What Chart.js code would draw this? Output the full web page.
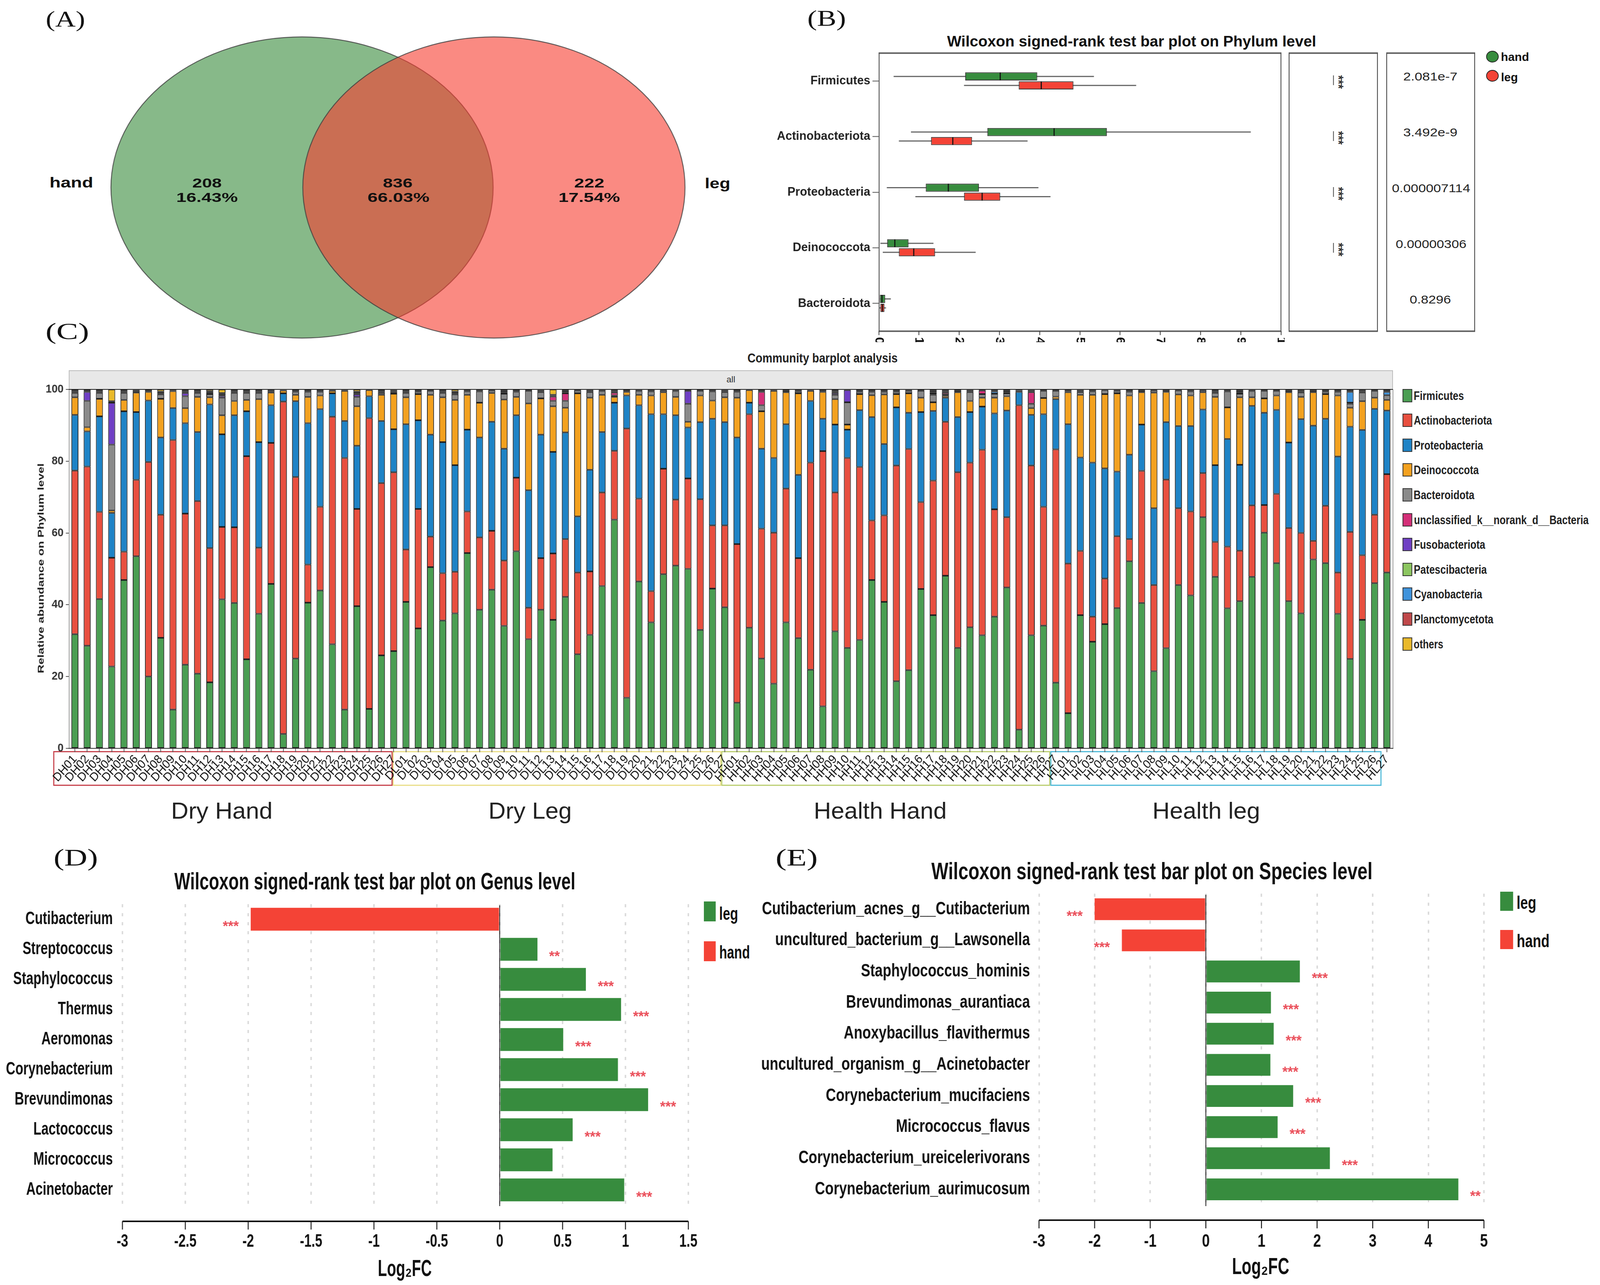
<!DOCTYPE html>
<html>
<head>
<meta charset="utf-8">
<script src="https://cdn.jsdelivr.net/npm/chart.js@4/dist/chart.umd.min.js"></script>
<style>
  html, body { margin: 0; padding: 0; background: #fff; overflow: hidden; }
  #page { position: relative; width: 4328px; height: 3290px; overflow: hidden; background: #fff; transform-origin: 0 0; }
  #page canvas { position: absolute; }
  .t { position: absolute; white-space: nowrap; line-height: 1; color: #111; font-family: "Liberation Sans", sans-serif; }
  .box { position: absolute; box-sizing: border-box; }
</style>
</head>
<body>
<div id="page"></div>
<script>
// ---------- panel A: Venn ----------
const vennSets = ["hand", "leg"];
const vennCenters = [-0.5, 0.5];
const vennRadius = 0.996;
const vennCounts = [208, 836, 222];
const vennPercents = ["16.43%", "66.03%", "17.54%"];

// ---------- panel B: phylum box plot ----------
const phylumNames = ["Firmicutes", "Actinobacteriota", "Proteobacteria", "Deinococcota", "Bacteroidota"];
const handMin = [0.37, 0.8, 0.2, 0.04, 0.03];
const handQ1 = [2.15, 2.7, 1.17, 0.21, 0.03];
const handMedian = [3.02, 4.36, 1.73, 0.4, 0.08];
const handQ3 = [3.94, 5.67, 2.49, 0.74, 0.16];
const handMax = [5.35, 9.25, 3.97, 1.36, 0.3];
const legMin = [2.12, 0.5, 0.91, 0.1, 0.01];
const legQ1 = [3.48, 1.3, 2.12, 0.5, 0.04];
const legMedian = [4.04, 1.84, 2.57, 0.87, 0.09];
const legQ3 = [4.84, 2.32, 3.02, 1.4, 0.14];
const legMax = [6.4, 3.7, 4.27, 2.41, 0.18];
const phylumPValues = ["2.081e-7", "3.492e-9", "0.000007114", "0.00000306", "0.8296"];
const phylumStars = ["***", "***", "***", "***", ""];
const phylumTicks = ["0", "1", "2", "3", "4", "5", "6", "7", "8", "9", "10"];

// ---------- panel C: community barplot ----------
const sampleLabels = [
  "DH01","DH02","DH03","DH04","DH05","DH06","DH07","DH08","DH09","DH10","DH11","DH12","DH13","DH14","DH15","DH16","DH17","DH18","DH19","DH20","DH21","DH22","DH23","DH24","DH25","DH26","DH27",
  "DL01","DL02","DL03","DL04","DL05","DL06","DL07","DL08","DL09","DL10","DL11","DL12","DL13","DL14","DL15","DL16","DL17","DL18","DL19","DL20","DL21","DL22","DL23","DL24","DL25","DL26","DL27",
  "HH01","HH02","HH03","HH04","HH05","HH06","HH07","HH08","HH09","HH10","HH11","HH12","HH13","HH14","HH15","HH16","HH17","HH18","HH19","HH20","HH21","HH22","HH23","HH24","HH25","HH26","HH27",
  "HL01","HL02","HL03","HL04","HL05","HL06","HL07","HL08","HL09","HL10","HL11","HL12","HL13","HL14","HL15","HL16","HL17","HL18","HL19","HL20","HL21","HL22","HL23","HL24","HL25","HL26","HL27"
];
// upper edge of each of the big segments
const firmicutesTop = [
  31.8,28.6,41.6,22.8,46.9,53.5,20,30.8,10.8,23.3,20.8,18.4,41.5,40.5,24.8,37.5,45.8,4,25,40.6,44,29,10.8,39.6,11,25.9,27.1,
  40.8,33.4,50.5,35.6,37.6,54.4,38.6,44.2,34.1,54.9,30.4,38.6,35.8,42.2,26.2,31.6,45.2,63.7,14.1,46.5,35.1,48.5,50.9,50,33,44.5,39.3,
  12.7,33.6,25,18,35.1,30.7,21.9,11.7,32.6,28,30.2,46.9,40.8,18.7,21.8,44.4,37.1,48.1,28,33.7,31.5,36.7,44.8,5.2,31.5,34.2,18.3,
  9.8,37.1,29.7,34.6,39.1,52.1,40.5,21.5,27.9,45.5,42.6,64.4,47.8,39,41,47.8,60.1,51.6,41,37.6,52.6,51.6,37.5,24.9,35.8,46,49
];
const actinoTop = [
  77.4,78.5,65.9,53.1,54.8,74.8,79.8,65.1,85.9,65.4,68.9,55.8,61.7,61.6,81.4,55.9,85.1,96.6,75.6,51.2,67.3,92.4,80.9,66.7,92,73.9,76.9,
  55.4,66.7,59,48.8,49.2,66,58.8,60.6,52.3,75.4,39.2,53,54.3,58.3,49,49.3,71.3,82.9,89.1,69.6,43.8,77.9,69.3,75.2,69.4,62.1,62.1,
  56.9,93.1,61.2,60.1,72.4,53,79.6,82.8,71.3,80.9,78.4,63.5,64.9,78.8,83.4,68.6,74.6,91,76.9,79.6,83.2,66.6,64.4,95.6,78.8,67.3,83.3,
  51.5,55,36.7,47.3,59.1,58.3,77.3,45.5,74.9,66.9,66,76.7,57.5,56.2,55.1,67.7,67.8,70.9,61.4,60,57.8,67.6,49,60.3,53.8,65.1,76.4
];
const proteoTop = [
  92.9,88.3,92.5,65.6,93.9,93.7,96.9,86.6,94.8,90.6,88.1,95.8,87.5,92.8,93.9,85.3,95.6,98.9,96.7,90.6,94.5,98.9,91.2,84.3,98.1,91.2,88.9,
  90.3,91.4,87.4,85.3,78.9,88.8,86.6,91,83.5,92.8,71.9,87.4,82.6,88,64.6,77.6,88.1,96.3,98.3,95.6,93.1,93.1,92.8,89.4,90.9,91.8,90.9,
  86.6,96.3,83.5,80.9,90.3,76.2,96.8,91.8,90.2,88.8,94.2,92.3,84.8,95,93.5,93.7,94,97.7,92.3,93.7,95.2,93.3,94.1,99.3,92.9,93.1,97.3,
  90.3,81,79.6,78,77.1,81.8,90.2,66.9,90.9,89.8,89.8,94.4,78.9,86.2,79,95.4,93.5,94.3,85.2,91.7,89.9,91.8,81.3,89.6,88.7,94.6,94.1
];
const deinoTop = [
  97.8,89.5,97.4,66.3,97.1,99.1,99.3,97.4,99.5,94.8,97.9,97.8,92.8,96.8,97.1,97.3,99.1,99.7,98.5,97.9,98.3,99.6,99.6,95.3,99.8,98.5,98.8,
  97.8,98.7,98.5,97.8,97.1,98.5,96.3,99,97.2,97.9,96.1,97.5,95.3,94.9,98.9,97.7,98.5,97.9,99.3,98.5,98.3,99.2,97.9,91,98.3,96.9,97.8,
  97.7,99.8,93.9,99.6,99.2,98.9,99.6,99.3,97.3,90.2,98.7,98.4,98.6,98.7,98.9,97.7,96.4,98.2,99.2,96.8,97.7,97.7,98.1,99.6,94.8,97.6,98,
  99.2,98.5,98.5,98.7,98.9,98.3,99.2,99.1,99.3,98.6,98.3,99.2,97.9,95,97.8,97.8,97.5,98.3,99.2,97.9,99.2,98.7,98.3,94.9,96.7,97.7,97.1
];
const bacteroTop = [
  99,96.8,99,84.6,99,99.5,99.6,98.6,99.7,98.1,99,98.7,97.7,99,99,99,99.4,99.8,99.3,99.3,99.3,99.8,99.8,97.9,99.9,99,99.2,
  99,99.3,99.6,99,98.6,99.4,99.4,99.7,98.8,99.3,99.6,99.2,96.8,96.8,99.7,99.2,99.5,98.3,99.6,99.5,99.4,99.7,99.5,96,99.6,99.4,99.2,
  99.3,99.9,95.6,99.8,99.6,99.4,99.8,99.6,98.5,96.4,99.3,99.3,99.3,99.3,99.5,99.6,98.5,98.6,99.6,99.2,98.7,98.8,98.9,99.7,96,99.6,99.6,
  99.4,99.2,99.4,99.8,99.5,99.3,99.6,99.7,99.7,99.7,99.4,99.7,99,99.4,98.8,99.5,99.6,99.6,99.6,99.1,99.6,99.3,99.3,96,99.1,99.6,98.4
];
// the thin segments above Bacteroidota, heights only
const unclassifiedVals = [
  0,0,0,0,0,0,0,0,0,0,0,0,0,0,0,0,0,0,0,0,0,0,0,0,0,0,0,
  0,0,0,0,0,0,0,0,0,0,0,0,1.2,2.1,0,0,0,0.8,0,0,0,0,0,0,0,0,0,
  0,0,3.7,0,0,0,0,0,0,0,0,0,0,0,0,0,0,0.5,0,0,1,0,0,0,3.2,0,0,
  0,0,0,0,0,0,0,0,0,0,0,0,0,0,0,0,0,0,0,0,0,0,0,0,0,0,0
];
const fusoVals = [
  0,2.5,0,11.7,0,0,0,0,0,0.9,0,0,0.5,0,0,0,0,0,0,0,0,0,0,0.7,0,0,0,
  0,0,0,0,0,0,0,0,0,0,0,0,0,0,0,0,0,0,0,0,0,0,0,3.6,0,0,0,
  0,0,0,0,0,0,0,0,0.5,3.4,0,0,0,0,0,0,0,0,0,0,0,0,0,0,0,0,0,
  0,0,0,0,0,0,0,0,0,0,0,0,0,0,0,0,0,0,0,0,0,0,0,0,0,0,0
];
const patesciVals = [
  0.3,0,0.3,0,0.3,0,0,0.4,0,0.3,0.3,0.4,0.4,0.3,0.3,0.3,0,0,0,0,0,0,0,0.4,0,0.3,0.3,
  0.3,0,0,0.3,0.4,0,0,0,0.4,0,0,0.3,0.3,0.3,0,0.3,0,0.3,0,0,0,0,0,0,0,0,0.3,
  0,0,0,0,0,0,0,0,0.3,0,0,0,0,0,0,0,0.4,0.3,0,0.3,0,0,0.3,0,0.3,0,0,
  0,0.3,0,0,0,0,0,0,0,0,0,0,0.3,0,0.4,0,0,0,0,0.3,0,0,0,0.3,0.3,0,0
];
const cyanoVals = [
  0,0,0,0,0,0,0,0,0,0,0,0,0,0,0,0,0,0,0,0,0,0,0,0,0,0,0,
  0,0,0,0,0,0,0,0,0,0,0,0,0,0,0,0,0,0,0,0,0,0,0,0,0,0,0,
  0,0,0,0,0,0,0,0,0,0,0,0,0,0,0,0,0.3,0,0,0,0,0.6,0,0,0,0,0,
  0,0,0,0,0,0,0,0,0,0,0,0,0,0,0,0,0,0,0,0,0,0,0,3,0,0,0.9
];
const planctoVals = [
  0.3,0.3,0.3,0.4,0.3,0.3,0,0.4,0,0.3,0.3,0.4,0.4,0.3,0.3,0.3,0.3,0,0.3,0.3,0.3,0,0,0.4,0,0.3,0.3,
  0.3,0.3,0,0.3,0.4,0.3,0.3,0,0.4,0.3,0,0.3,0.2,0.4,0,0.3,0.3,0.3,0,0.3,0.3,0,0.3,0,0,0.3,0.3,
  0.3,0,0.3,0,0,0.3,0,0,0.3,0,0.3,0.3,0.3,0.3,0.3,0,0.4,0.3,0,0.3,0,0.3,0.4,0,0.3,0,0,
  0.3,0.3,0.3,0,0.3,0.3,0,0,0,0,0.3,0,0.3,0.3,0.4,0.3,0,0,0,0.3,0,0.3,0.3,0.3,0.3,0,0.3
];
const othersVals = [
  0.4,0.4,0.4,3.3,0.4,0.2,0.4,0.6,0.3,0.4,0.4,0.5,1,0.4,0.4,0.4,0.3,0.2,0.4,0.4,0.4,0.2,0.2,0.6,0.1,0.4,0.2,
  0.4,0.4,0.4,0.4,0.6,0.3,0.3,0.3,0.4,0.4,0.4,0.2,1.5,0.4,0.3,0.2,0.2,0.3,0.4,0.2,0.3,0.3,0.2,0.4,0.4,0.3,0.2,
  0.4,0.1,0.4,0.2,0.4,0.3,0.2,0.4,0.4,0.2,0.4,0.4,0.4,0.4,0.2,0.4,0.4,0.3,0.4,0.2,0.3,0.3,0.4,0.3,0.2,0.4,0.4,
  0.3,0.2,0.3,0.2,0.2,0.4,0.4,0.3,0.3,0.3,0.3,0.3,0.4,0.3,0.4,0.2,0.4,0.4,0.4,0.3,0.4,0.4,0.4,0.4,0.3,0.4,0.4
];
const yTicksC = [0, 20, 40, 60, 80, 100];
const groupNames = ["Dry Hand", "Dry Leg", "Health Hand", "Health leg"];

// ---------- panel D: genus log2FC ----------
const genusNames = ["Cutibacterium","Streptococcus","Staphylococcus","Thermus","Aeromonas","Corynebacterium","Brevundimonas","Lactococcus","Micrococcus","Acinetobacter"];
const genusLogFC = [-1.98, 0.3, 0.685, 0.965, 0.505, 0.94, 1.18, 0.58, 0.42, 0.99];
const genusStars = ["***","**","***","***","***","***","***","***","","***"];

// ---------- panel E: species log2FC ----------
const speciesNames = ["Cutibacterium_acnes_g__Cutibacterium","uncultured_bacterium_g__Lawsonella","Staphylococcus_hominis","Brevundimonas_aurantiaca","Anoxybacillus_flavithermus","uncultured_organism_g__Acinetobacter","Corynebacterium_mucifaciens","Micrococcus_flavus","Corynebacterium_ureicelerivorans","Corynebacterium_aurimucosum"];
const speciesLogFC = [-2.0, -1.51, 1.69, 1.17, 1.22, 1.16, 1.57, 1.29, 2.23, 4.54];
const speciesStars = ["***","***","***","***","***","***","***","***","***","**"];

const GREEN = "#378c3e";
const RED = "#f44336";
const SANS = '"Liberation Sans", sans-serif';

const page = document.getElementById("page");
// the browser may cap the window below the figure width, so squeeze the whole page to fit
page.style.transform = `scaleX(${Math.min(1, window.innerWidth / 4328)})`;
Chart.defaults.font.family = SANS;
Chart.defaults.color = "#111";
Chart.defaults.animation = false;

// Text placed by left and right edge, squeezed or stretched to fit that width
function label(str, x0, x1, yc, size, opts = {}) {
  const el = document.createElement("div");
  el.className = "t";
  el.textContent = str;
  el.style.fontSize = size + "px";
  if (opts.bold) el.style.fontWeight = "bold";
  if (opts.family) el.style.fontFamily = opts.family;
  if (opts.color) el.style.color = opts.color;
  page.appendChild(el);
  const k = (x1 - x0) / el.offsetWidth;
  el.style.left = (x0 + x1) / 2 + "px";
  el.style.top = yc + "px";
  el.style.transform = `translate(-50%, -50%) ${opts.rotate ? "rotate(" + opts.rotate + "deg)" : ""} scaleX(${k})`;
  return el;
}

function box(x0, y0, x1, y1, css) {
  const el = document.createElement("div");
  el.className = "box";
  el.style.left = x0 + "px";
  el.style.top = y0 + "px";
  el.style.width = x1 - x0 + "px";
  el.style.height = y1 - y0 + "px";
  Object.assign(el.style, css);
  page.appendChild(el);
  return el;
}

// Canvas whose plot area lands on the given page rectangle
function makeCanvas(plot, margin) {
  const c = document.createElement("canvas");
  const w = plot.right - plot.left + margin.left + margin.right;
  const h = plot.bottom - plot.top + margin.top + margin.bottom;
  c.width = w;
  c.height = h;
  c.style.left = plot.left - margin.left + "px";
  c.style.top = plot.top - margin.top + "px";
  c.style.width = w + "px";
  c.style.height = h + "px";
  page.appendChild(c);
  return c;
}

function fixWidth(px) {
  return (s) => { s.width = px; s.paddingTop = 0; s.paddingBottom = 0; };
}
function fixHeight(px) {
  return (s) => { s.height = px; s.paddingLeft = 0; s.paddingRight = 0; };
}

// ---------- panel letters ----------
const SERIF = '"Liberation Serif", serif';
label("(A)", 123, 230, 49, 56, { family: SERIF });
label("(B)", 2183, 2288, 47, 56, { family: SERIF });
label("(C)", 123, 241, 848, 60, { family: SERIF });
label("(D)", 145, 265, 2195, 62, { family: SERIF });
label("(E)", 2098, 2212, 2195, 62, { family: SERIF });

// ---------- A ----------
const vennPlugin = {
  id: "venn",
  afterDatasetsDraw(chart) {
    const { ctx, scales: { x, y } } = chart;
    const fills = ["rgba(55,138,58,0.6)", "rgba(247,60,47,0.6)"];
    vennCenters.forEach((c, i) => {
      ctx.save();
      ctx.beginPath();
      ctx.ellipse(x.getPixelForValue(c), y.getPixelForValue(0),
        x.getPixelForValue(c + vennRadius) - x.getPixelForValue(c),
        y.getPixelForValue(0) - y.getPixelForValue(vennRadius), 0, 0, Math.PI * 2);
      ctx.fillStyle = fills[i];
      ctx.fill();
      ctx.lineWidth = 2.5;
      ctx.strokeStyle = "rgba(60,60,60,0.8)";
      ctx.stroke();
      ctx.restore();
    });
  },
};
new Chart(makeCanvas({ left: 298, right: 1855, top: 93, bottom: 867 }, { left: 0, right: 0, top: 0, bottom: 0 }), {
  type: "scatter",
  data: { datasets: [{ data: vennCenters.map((c) => ({ x: c, y: 0 })), pointRadius: 0 }] },
  options: {
    responsive: false,
    devicePixelRatio: 1,
    layout: { padding: 0 },
    plugins: { legend: { display: false }, tooltip: { enabled: false } },
    scales: {
      x: { display: false, min: -1.5, max: 1.5 },
      y: { display: false, min: -1, max: 1 },
    },
  },
  plugins: [vennPlugin],
});
label(vennSets[0], 134, 252, 468, 36, { bold: true });
label(vennSets[1], 1906, 1975, 470, 36, { bold: true });
[[520, 600, 477, 643], [1035, 1116, 994, 1161], [1553, 1635, 1511, 1677]].forEach((p, i) => {
  label(String(vennCounts[i]), p[0], p[1], 468, 34, { bold: true });
  label(vennPercents[i], p[2], p[3], 505, 34, { bold: true });
});

// ---------- B ----------
label("Wilcoxon signed-rank test bar plot on Phylum level", 2562, 3560, 106, 38, { bold: true });
const frameCss = { borderLeft: "2px solid #333", borderRight: "2px solid #333", borderTop: "4px solid #666", borderBottom: "4px solid #666" };
box(2377, 134, 3466, 850, frameCss);
box(3486, 134, 3727, 850, frameCss);
box(3750, 134, 3990, 850, frameCss);

const boxPlugin = {
  id: "boxExtras",
  beforeDatasetsDraw(chart) {
    const { ctx, scales: { x } } = chart;
    [[handMin, handMax], [legMin, legMax]].forEach(([lo, hi], d) => {
      chart.getDatasetMeta(d).data.forEach((bar, i) => {
        ctx.save();
        ctx.strokeStyle = "#666";
        ctx.lineWidth = 3;
        ctx.beginPath();
        ctx.moveTo(x.getPixelForValue(lo[i]), bar.y);
        ctx.lineTo(x.getPixelForValue(hi[i]), bar.y);
        ctx.stroke();
        ctx.restore();
      });
    });
  },
  afterDatasetsDraw(chart) {
    const { ctx, scales: { x }, chartArea } = chart;
    [handMedian, legMedian].forEach((med, d) => {
      chart.getDatasetMeta(d).data.forEach((bar, i) => {
        const px = x.getPixelForValue(med[i]);
        ctx.save();
        ctx.strokeStyle = "#111";
        ctx.lineWidth = 3;
        ctx.beginPath();
        ctx.moveTo(px, bar.y - 10);
        ctx.lineTo(px, bar.y + 10);
        ctx.stroke();
        ctx.restore();
      });
    });
    // tick numbers are turned on their side and cut off in half in the figure
    const clipTop = chartArea.bottom + 15;
    ctx.save();
    ctx.beginPath();
    ctx.rect(0, clipTop, chart.width, 13);
    ctx.clip();
    ctx.fillStyle = "#111";
    ctx.font = 'bold 34px ' + SANS;
    ctx.textBaseline = "middle";
    ctx.textAlign = "left";
    phylumTicks.forEach((t, i) => {
      ctx.save();
      ctx.translate(x.getPixelForValue(i), clipTop);
      ctx.rotate(Math.PI / 2);
      ctx.fillText(t, 0, 0);
      ctx.restore();
    });
    ctx.restore();
  },
};
new Chart(makeCanvas({ left: 2377, right: 3465, top: 136, bottom: 848 }, { left: 277, right: 10, top: 10, bottom: 40 }), {
  type: "bar",
  data: {
    labels: phylumNames,
    datasets: [
      { label: "hand", data: handQ1.map((q, i) => [q, handQ3[i]]), backgroundColor: GREEN },
      { label: "leg", data: legQ1.map((q, i) => [q, legQ3[i]]), backgroundColor: RED },
    ],
  },
  options: {
    indexAxis: "y",
    responsive: false,
    devicePixelRatio: 1,
    layout: { padding: { top: 10, right: 10 } },
    datasets: { bar: { borderWidth: 2, borderColor: "#333", borderSkipped: false, categoryPercentage: 0.323, barPercentage: 0.9 } },
    plugins: { legend: { display: false }, tooltip: { enabled: false } },
    scales: {
      x: {
        min: 0, max: 10,
        afterFit: fixHeight(40),
        grid: { drawOnChartArea: false, tickLength: 10, tickColor: "#333", tickWidth: 2 },
        border: { display: false },
        ticks: { display: false, stepSize: 1 },
      },
      y: {
        afterFit: fixWidth(277),
        grid: { offset: false, drawOnChartArea: false, tickLength: 17, tickColor: "#555", tickWidth: 2 },
        border: { display: false },
        ticks: { padding: 6, font: { size: 32, weight: "bold" }, color: "#222" },
      },
    },
  },
  plugins: [boxPlugin],
});
const rowY = [205, 348, 491, 634, 776];
phylumStars.forEach((s, i) => {
  if (!s) return;
  label(s, 3604, 3638, rowY[i] + 5, 38, { bold: true, rotate: 90, color: "#333" });
  box(3606, rowY[i] - 12, 3608, rowY[i] + 13, { background: "#444" });
});
const pEdges = [[3796, 3942], [3796, 3942], [3765, 3977], [3775, 3967], [3813, 3925]];
phylumPValues.forEach((p, i) => label(p, pEdges[i][0], pEdges[i][1], rowY[i] - 9, 30, { color: "#222" }));
box(4020, 130, 4054, 160, { background: GREEN, border: "2px solid #222", borderRadius: "50%" });
box(4020, 179, 4054, 209, { background: RED, border: "2px solid #222", borderRadius: "50%" });
label("hand", 4060, 4136, 146, 29, { bold: true });
label("leg", 4060, 4106, 198, 29, { bold: true });

// ---------- C ----------
label("Community barplot analysis", 2022, 2428, 916, 34, { bold: true, color: "#222" });
box(186, 948, 3768, 997, { background: "#e8e8e8", borderTop: "2px solid #bbb", borderLeft: "2px solid #bbb", borderRight: "2px solid #bbb" });
box(186, 997, 3769, 1917, { borderLeft: "2px solid #999", borderRight: "2px solid #999" });
label("all", 1965, 1989, 972, 22, { color: "#333" });
const groupBoxes = [[144, 1062, "#c8454f"], [1062, 1951, "#eadf8a"], [1951, 2841, "#bccf73"], [2841, 3737, "#52bbd9"]];
groupBoxes.forEach((g) => box(g[0], 1923, g[1], 2012, { border: "3px solid " + g[2] }));
const groupEdges = [[463, 737], [1321, 1546], [2201, 2561], [3117, 3408]];
groupNames.forEach((n, i) => label(n, groupEdges[i][0], groupEdges[i][1], 2076, 60, { color: "#222" }));

const diff = (top, below) => top.map((v, i) => +(v - below[i]).toFixed(2));
const phylumSeries = [
  { label: "Firmicutes", data: firmicutesTop, backgroundColor: "#4a9e52" },
  { label: "Actinobacteriota", data: diff(actinoTop, firmicutesTop), backgroundColor: "#e84f3f" },
  { label: "Proteobacteria", data: diff(proteoTop, actinoTop), backgroundColor: "#1e83c6" },
  { label: "Deinococcota", data: diff(deinoTop, proteoTop), backgroundColor: "#f3a11f" },
  { label: "Bacteroidota", data: diff(bacteroTop, deinoTop), backgroundColor: "#8a8a8a" },
  { label: "unclassified_k__norank_d__Bacteria", data: unclassifiedVals, backgroundColor: "#d42f78" },
  { label: "Fusobacteriota", data: fusoVals, backgroundColor: "#6f3fc4" },
  { label: "Patescibacteria", data: patesciVals, backgroundColor: "#8cc660" },
  { label: "Cyanobacteria", data: cyanoVals, backgroundColor: "#3f93dc" },
  { label: "Planctomycetota", data: planctoVals, backgroundColor: "#c0484a" },
  { label: "others", data: othersVals, backgroundColor: "#e9b92a" },
];
new Chart(makeCanvas({ left: 186, right: 3768, top: 997, bottom: 1916 }, { left: 126, right: 12, top: 24, bottom: 134 }), {
  type: "bar",
  data: { labels: sampleLabels, datasets: phylumSeries },
  options: {
    responsive: false,
    devicePixelRatio: 1,
    layout: { padding: { top: 24, right: 12 } },
    datasets: { bar: { borderWidth: 2, borderColor: "#222", borderSkipped: false, categoryPercentage: 1, barPercentage: 0.57 } },
    plugins: { legend: { display: false }, tooltip: { enabled: false } },
    scales: {
      x: {
        stacked: true,
        afterFit: fixHeight(134),
        grid: { offset: false, drawOnChartArea: false, tickLength: 10, tickColor: "#555", tickWidth: 2 },
        border: { color: "#333", width: 2 },
        ticks: { autoSkip: false, maxRotation: 48, minRotation: 48, padding: 0, font: { size: 31 }, color: "#111" },
      },
      y: {
        stacked: true,
        min: 0, max: 100,
        afterFit: fixWidth(126),
        afterBuildTicks: (s) => { s.ticks = yTicksC.map((v) => ({ value: v })); },
        grid: { color: (c) => (c.tick && c.tick.value === 100 ? "#222" : "transparent"), lineWidth: 2, tickLength: 8, tickColor: "#555" },
        border: { display: false },
        ticks: { padding: 6, font: { size: 29, weight: "bold" }, color: "#333" },
      },
    },
  },
});
label("Relative abundance on Phylum level", -159, 379, 1455, 24, { bold: true, color: "#222", rotate: -90 });
const legendWidths = [136, 212, 187, 176, 164, 473, 193, 197, 185, 215, 80];
phylumSeries.forEach((s, i) => {
  const yc = 1012.6 + i * 63.6;
  box(3794, yc - 17, 3820, yc + 17, { background: s.backgroundColor, border: "2px solid #333" });
  label(s.label, 3824, 3824 + legendWidths[i], yc, 31, { color: "#222", bold: true });
});

// ---------- D and E ----------
// horizontal log2FC bars; the x axis sits detached below the plot so it is drawn here,
// and the tall condensed lettering of the figure needs horizontally squeezed tick text
function logFcChart(plot, margin, names, values, stars, cfg) {
  const extras = {
    id: "fcExtras",
    afterDatasetsDraw(chart) {
      const { ctx, scales: { x, y }, chartArea } = chart;
      const axisY = chartArea.bottom + cfg.axisGap;
      ctx.save();
      ctx.strokeStyle = "#111";
      ctx.lineWidth = 2;
      ctx.beginPath();
      ctx.moveTo(x.getPixelForValue(0), chartArea.top + 3);
      ctx.lineTo(x.getPixelForValue(0), chartArea.bottom + 3);
      ctx.stroke();
      ctx.lineWidth = 4;
      ctx.beginPath();
      ctx.moveTo(chartArea.left, axisY);
      ctx.lineTo(chartArea.right, axisY);
      ctx.stroke();
      ctx.lineWidth = 2.5;
      x.ticks.forEach((t) => {
        const px = x.getPixelForValue(t.value);
        ctx.beginPath();
        ctx.moveTo(px, axisY);
        ctx.lineTo(px, axisY + 21);
        ctx.stroke();
      });
      ctx.fillStyle = "#ea4f5a";
      ctx.font = "bold 37px " + SANS;
      ctx.textAlign = "center";
      ctx.textBaseline = "middle";
      chart.getDatasetMeta(0).data.forEach((bar, i) => {
        if (!stars[i]) return;
        const gap = stars[i] === "**" ? 46 : 54;
        ctx.fillText(stars[i], bar.x + (values[i] < 0 ? -gap : gap), bar.y + 20);
      });
      ctx.fillStyle = "#111";
      ctx.font = "bold 46px " + SANS;
      const k = cfg.fitWidth / ctx.measureText(cfg.fitName).width;
      names.forEach((n, i) => {
        ctx.save();
        ctx.translate(chartArea.left - cfg.labelGap, y.getPixelForTick(i));
        ctx.scale(k, 1);
        ctx.textAlign = "right";
        ctx.fillText(n, 0, 0);
        ctx.restore();
      });
      x.ticks.forEach((t) => {
        ctx.save();
        ctx.translate(x.getPixelForValue(t.value), chartArea.bottom + 94);
        ctx.scale(k, 1);
        ctx.textAlign = "center";
        ctx.fillText(String(t.value), 0, 0);
        ctx.restore();
      });
      ctx.restore();
    },
  };
  return new Chart(makeCanvas(plot, margin), {
    type: "bar",
    data: {
      labels: names,
      datasets: [{
        data: values,
        backgroundColor: values.map((v) => (v < 0 ? RED : GREEN)),
        categoryPercentage: 1,
        barPercentage: cfg.barPct,
      }],
    },
    options: {
      indexAxis: "y",
      responsive: false,
      devicePixelRatio: 1,
      layout: { padding: { top: margin.top, right: margin.right } },
      plugins: { legend: { display: false }, tooltip: { enabled: false } },
      scales: {
        x: {
          min: cfg.min, max: cfg.max,
          afterFit: fixHeight(margin.bottom),
          grid: { color: "#dadada", lineWidth: 4, drawTicks: false },
          border: { display: false, dash: [8, 15] },
          ticks: { stepSize: cfg.step, display: false },
        },
        y: {
          afterFit: fixWidth(margin.left),
          grid: { display: false, drawTicks: false },
          border: { display: false },
          ticks: { display: false },
        },
      },
    },
    plugins: [extras],
  });
}

label("Wilcoxon signed-rank test bar plot on Genus level", 471, 1556, 2256, 62, { bold: true });
logFcChart({ left: 331, right: 1861.5, top: 2314.5, bottom: 3084.5 }, { left: 331, right: 30, top: 4, bottom: 130 },
  genusNames, genusLogFC, genusStars,
  { min: -3, max: 1.5, step: 0.5, axisGap: 42, barPct: 0.76, labelGap: 26, fitName: "Corynebacterium", fitWidth: 289 });
box(1904, 2308, 1936, 2359, { background: GREEN });
box(1904, 2410, 1936, 2461, { background: RED });
label("leg", 1945, 1996, 2339, 46, { bold: true });
label("hand", 1945, 2028, 2438, 46, { bold: true });
label("Log₂FC", 1022, 1168, 3247, 60, { bold: true });

label("Wilcoxon signed-rank test bar plot on Species level", 2519, 3712, 2230, 62, { bold: true });
logFcChart({ left: 2810.5, right: 4014, top: 2288, bottom: 3085 }, { left: 770.5, right: 30, top: 4, bottom: 130 },
  speciesNames, speciesLogFC, speciesStars,
  { min: -3, max: 5, step: 1, axisGap: 39, barPct: 0.7, labelGap: 24.5, fitName: "Cutibacterium_acnes_g__Cutibacterium", fitWidth: 725 });
box(4058, 2283, 4093, 2332, { background: GREEN });
box(4058, 2381, 4093, 2430, { background: RED });
label("leg", 4102, 4155, 2311, 46, { bold: true });
label("hand", 4102, 4191, 2409, 46, { bold: true });
label("Log₂FC", 3332, 3487, 3242, 60, { bold: true });
</script>
</body>
</html>
